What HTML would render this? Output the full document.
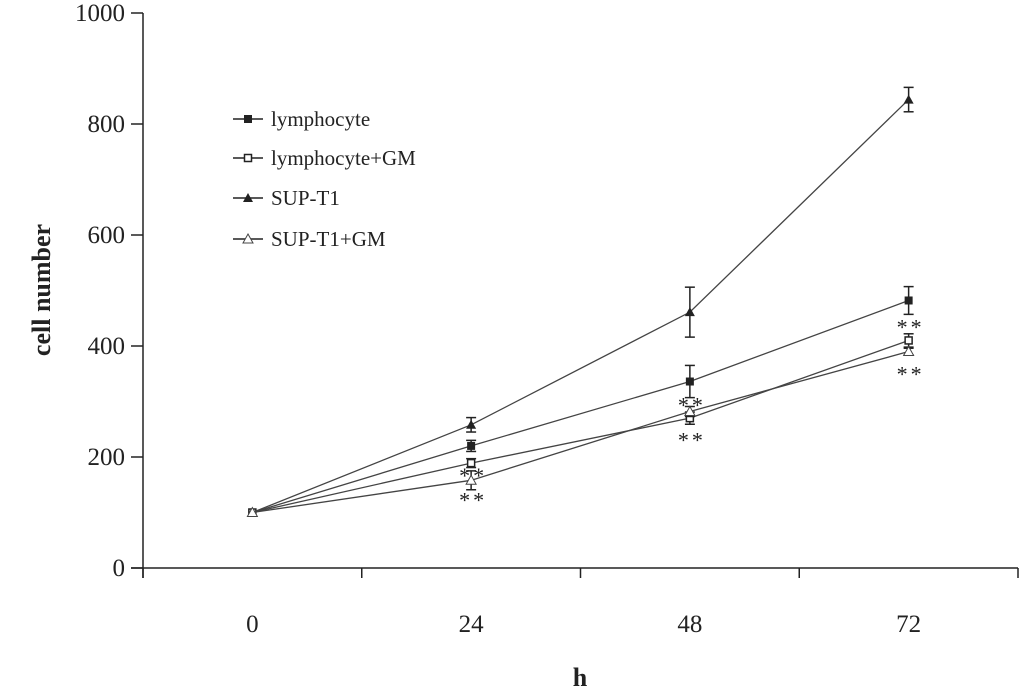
<!DOCTYPE html>
<html><head><meta charset="utf-8"><style>
html,body{margin:0;padding:0;background:#fff;width:1024px;height:691px;overflow:hidden}
svg text{font-family:"Liberation Serif",serif;fill:#222}
</style></head><body>
<svg id="chart" width="1024" height="691" viewBox="0 0 1024 691" xmlns="http://www.w3.org/2000/svg">
<g id="axes"></g>
<g id="series"></g>
<g id="legend"></g>
</svg>
<script>
const categories = [0, 24, 48, 72];
const yTicks = [0, 200, 400, 600, 800, 1000];
const seriesNames = ["lymphocyte", "lymphocyte+GM", "SUP-T1", "SUP-T1+GM"];
const lymphocyte = [100, 220, 336, 482];
const lymphocyteGM = [100, 189, 270, 410];
const supT1 = [100, 258, 461, 844];
const supT1GM = [100, 158, 282, 390];
const lymphocyteErr = [0, 10, 29, 25];
const lymphocyteGMErr = [0, 8, 11, 12];
const supT1Err = [0, 13, 45, 22];
const supT1GMErr = [0, 17, 9, 6];
const sigLymphGM = [false, true, true, true];
const sigSupGM = [false, true, true, true];

const NS = "http://www.w3.org/2000/svg";
const X0 = 143, X1 = 1018, Y0 = 568, Y1 = 13;
const yScale = v => Y0 - (v / 1000) * (Y0 - Y1);
const band = (X1 - X0) / categories.length;
const xScale = i => X0 + band * (i + 0.5);
function mk(tag, attrs, parent) {
  const e = document.createElementNS(NS, tag);
  for (const k in attrs) e.setAttribute(k, attrs[k]);
  parent.appendChild(e);
  return e;
}
const axes = document.getElementById('axes');
const ser = document.getElementById('series');
const leg = document.getElementById('legend');
const line = (x1,y1,x2,y2,p,w)=>mk('line',{x1,y1,x2,y2,stroke:'#222','stroke-width':w||1.5},p);

let ya = line(X0, Y1, X0, Y0 + 10, axes);


let xa = line(X0 - 12, Y0, X1, Y0, axes);


yTicks.forEach(v => {
  const y = yScale(v);
  const t = line(X0 - 12, y, X0, y, axes);
  
  
  const l = mk('text', {x: X0 - 18, y: y + 8, 'text-anchor': 'end', 'font-size': 25}, axes);
  l.textContent = v;
  
  
});
for (let i = 0; i <= categories.length; i++) {
  const x = X0 + band * i;
  const t = line(x, Y0, x, Y0 + 10, axes);
  
  
}
categories.forEach((c, i) => {
  const l = mk('text', {x: xScale(i), y: 632, 'text-anchor': 'middle', 'font-size': 25}, axes);
  l.textContent = c;
  
  
});
const xt = mk('text', {x: 580, y: 686, 'text-anchor': 'middle', 'font-size': 26, 'font-weight': 'bold'}, axes);
xt.textContent = 'h';


const yt = mk('text', {x: 0, y: 0, 'text-anchor': 'middle', 'font-size': 26, 'font-weight': 'bold', transform: 'translate(50,290) rotate(-90)'}, axes);
yt.textContent = 'cell number';



function marker(type, x, y, p) {
  if (type === 0) return mk('rect', {x: x - 4, y: y - 4, width: 8, height: 8, fill: '#222'}, p);
  if (type === 1) return mk('rect', {x: x - 3.5, y: y - 3.5, width: 7, height: 7, fill: '#fff', stroke: '#222', 'stroke-width': 1.5}, p);
  if (type === 2) return mk('polygon', {points: `${x},${y-5} ${x+5},${y+4} ${x-5},${y+4}`, fill: '#222'}, p);
  return mk('polygon', {points: `${x},${y-5} ${x+5},${y+4} ${x-5},${y+4}`, fill: '#fff', stroke: '#444', 'stroke-width': 1}, p);
}
const allVals = [lymphocyte, lymphocyteGM, supT1, supT1GM];
const allErr = [lymphocyteErr, lymphocyteGMErr, supT1Err, supT1GMErr];
const slugs = ['lymphocyte', 'lymphocyte-gm', 'sup-t1', 'sup-t1-gm'];
allVals.forEach((vals, s) => {
  const g = mk('g', {}, ser);
  
  
  const pl = mk('polyline', {points: vals.map((v, i) => xScale(i) + ',' + yScale(v)).join(' '), fill: 'none', stroke: '#444', 'stroke-width': 1.3}, g);
  
  
  vals.forEach((v, i) => {
    const x = xScale(i), e = allErr[s][i];
    if (e > 0) {
      const eb = mk('g', {}, g);
      
      
      line(x, yScale(v + e), x, yScale(v - e), eb, 1.5);
      line(x - 5, yScale(v + e), x + 5, yScale(v + e), eb, 1.5);
      line(x - 5, yScale(v - e), x + 5, yScale(v - e), eb, 1.5);
    }
    const m = marker(s, x, yScale(v), g);
    
    
  });
});
function star(x, cy) {
  const t = mk('text', {x: x, y: cy + 12, 'text-anchor': 'middle', 'font-size': 22, 'letter-spacing': 3, 'font-family': '"DejaVu Sans",sans-serif', fill: '#333'}, ser);
  t.textContent = '**';
  
  
}
sigLymphGM.forEach((f, i) => { if (f) star(xScale(i) + 2, yScale(lymphocyte[i]) + (i === 1 ? 25 : i === 2 ? 19 : 22)); });
sigSupGM.forEach((f, i) => { if (f) star(xScale(i) + 2, yScale(supT1GM[i]) + (i === 1 ? 15 : i === 2 ? 24 : 18)); });

const legY = [119, 158, 198, 239];
seriesNames.forEach((n, s) => {
  const g = mk('g', {}, leg);
  
  
  line(233, legY[s], 263, legY[s], g, 1.5);
  marker(s, 248, legY[s], g);
  const t = mk('text', {x: 271, y: legY[s] + 7, 'font-size': 21}, g);
  t.textContent = n;
});
</script>
</body></html>
